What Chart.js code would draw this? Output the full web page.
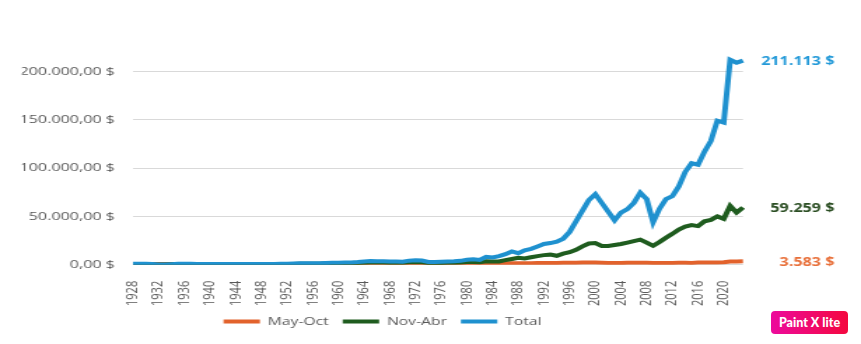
<!DOCTYPE html>
<html>
<head>
<meta charset="utf-8">
<script src="https://cdn.jsdelivr.net/npm/chart.js@4"></script>
<style>
  body { margin: 0; background: #fff; }
  #wrap { position: relative; width: 861px; height: 344px; }
  #badge {
    position: absolute; left: 771px; top: 311px; width: 77px; height: 23px;
    border-radius: 4px; background: linear-gradient(90deg, #ec0a9c, #f4083f);
    color: #fff; font: 900 12.5px Lato, sans-serif; line-height: 23px; text-align: center;
  }
</style>
</head>
<body>
<div id="wrap">
  <canvas id="chart" width="615" height="344" style="width:861px;height:344px"></canvas>
  <div id="badge">Paint X lite</div>
</div>
<script>
// the picture is stretched sideways, so draw narrow and scale with css
const years = [];
for (let y = 1928; y <= 2023; y++) years.push(String(y));

const seriesNames = ['May-Oct', 'Nov-Abr', 'Total'];

const mayOct = [
  700, 700, 700, 700, 700, 700, 700, 700, 700, 700,
  800, 800, 800, 800, 800, 800, 800, 800, 800, 800,
  800, 800, 800, 800, 800, 800, 800, 800, 800, 800,
  800, 800, 800, 800, 800, 800, 800, 800, 800, 800,
  800, 800, 800, 900, 900, 900, 800, 800, 800, 900,
  900, 1000, 1000, 1100, 1100, 1200, 1300, 1400, 1500, 1600,
  1600, 1700, 1700, 1800, 1800, 1900, 1900, 2000, 2100, 2200,
  2300, 2300, 2300, 2100, 1900, 1800, 1800, 2000, 2200, 2200,
  2000, 1900, 1900, 1900, 1900, 2000, 2200, 1900, 2300, 2300,
  2400, 2500, 2600, 3300, 3400, 3583
];

const novAbr = [
  600, 600, 500, 400, 200, 200, 500, 700, 800, 700,
  600, 500, 500, 500, 500, 500, 500, 500, 500, 500,
  500, 600, 600, 700, 800, 900, 1000, 1100, 1200, 1200,
  1300, 1400, 1500, 1600, 1700, 1900, 2200, 2400, 2300, 2300,
  2200, 2100, 2000, 2600, 3000, 2700, 1800, 1700, 1900, 2100,
  2200, 2400, 2800, 3000, 2700, 3600, 3300, 3500, 4800, 6000,
  7300, 6500, 7800, 9000, 10000, 10500, 9300, 11500, 13000, 15500,
  19000, 22000, 22500, 19500, 19500, 20500, 21500, 23000, 24500, 26000,
  23000, 19600, 23500, 28000, 32000, 36500, 39500, 41000, 40000, 45000,
  46500, 50000, 47500, 61000, 54000, 59259
];

const total = [
  1200, 1200, 1000, 800, 300, 300, 700, 1000, 1100, 1000,
  900, 800, 800, 800, 800, 800, 800, 800, 800, 800,
  800, 900, 900, 1000, 1200, 1400, 1500, 1600, 1700, 1700,
  1800, 2000, 2200, 2400, 2500, 2900, 3500, 3800, 3700, 3600,
  3500, 3300, 3200, 4300, 4800, 4400, 3000, 2800, 3200, 3500,
  3700, 4100, 5200, 5800, 5000, 8200, 7600, 9000, 11000, 13800,
  12000, 15000, 16500, 19000, 21500, 22500, 24000, 27000, 34000, 45000,
  56000, 67000, 73000, 64000, 55000, 46000, 54000, 57500, 64000, 74500,
  68000, 44000, 58000, 68000, 71000, 81000, 96000, 105000, 103500, 117000,
  128000, 149000, 147000, 212000, 209000, 211113
];

const yTicks = [0, 50000, 100000, 150000, 200000];

const lineColors = ['#e2622c', '#1f5c1f', '#1f91cf'];
const labelColors = ['#e8703a', '#2a4d22', '#2299d8'];

function groupThousands(v) {
  return String(Math.round(v)).replace(/\B(?=(\d{3})+(?!\d))/g, '.');
}

const endLabels = {
  id: 'endLabels',
  afterDatasetsDraw(chart) {
    const ctx = chart.ctx;
    const y = chart.scales.y;
    ctx.save();
    ctx.font = 'bold 11.5px "Open Sans"';
    ctx.textAlign = 'right';
    ctx.textBaseline = 'middle';
    chart.data.datasets.forEach((ds, i) => {
      const v = ds.data[ds.data.length - 1];
      ctx.fillStyle = labelColors[i];
      ctx.fillText(groupThousands(v) + ' $', 596, y.getPixelForValue(v) + 1);
    });
    ctx.restore();
  }
};

Chart.defaults.font.family = '"Open Sans", sans-serif';
Chart.defaults.color = '#595959';

new Chart(document.getElementById('chart'), {
  type: 'line',
  data: {
    labels: years,
    datasets: [mayOct, novAbr, total].map((d, i) => ({
      label: seriesNames[i],
      data: d,
      borderColor: lineColors[i],
      backgroundColor: lineColors[i],
      borderWidth: 4,
      pointRadius: 0,
      tension: 0,
      order: 2 - i
    }))
  },
  options: {
    responsive: false,
    animation: false,
    devicePixelRatio: 1,
    layout: { padding: { left: 15.7, right: 84.3, top: 52, bottom: 7 } },
    plugins: {
      tooltip: { enabled: false },
      legend: {
        position: 'bottom',
        labels: {
          boxWidth: 26,
          boxHeight: 4,
          padding: 10,
          font: { size: 11.2 },
          sort: (a, b) => a.datasetIndex - b.datasetIndex,
          generateLabels: chart =>
            Chart.defaults.plugins.legend.labels.generateLabels(chart)
              .map(l => Object.assign(l, { fillStyle: l.strokeStyle, lineWidth: 0 }))
        }
      }
    },
    scales: {
      x: {
        grid: { display: false },
        border: { display: false },
        afterFit: s => { s.height = 41; },
        ticks: {
          autoSkip: false,
          minRotation: 90,
          maxRotation: 90,
          padding: 8,
          font: { size: 11 },
          callback: (v, i) => (i % 4 === 0 ? years[i] : null)
        }
      },
      y: {
        min: 0,
        max: 220000,
        border: { display: false },
        grid: { color: '#d9d9d9', drawTicks: false },
        afterFit: s => { s.width = 79.3; },
        afterBuildTicks: s => { s.ticks = yTicks.map(v => ({ value: v })); },
        ticks: {
          padding: 12.9,
          font: { size: 11.5 },
          callback: v => groupThousands(v) + ',00 $'
        }
      }
    }
  },
  plugins: [endLabels]
});
</script>
</body>
</html>
